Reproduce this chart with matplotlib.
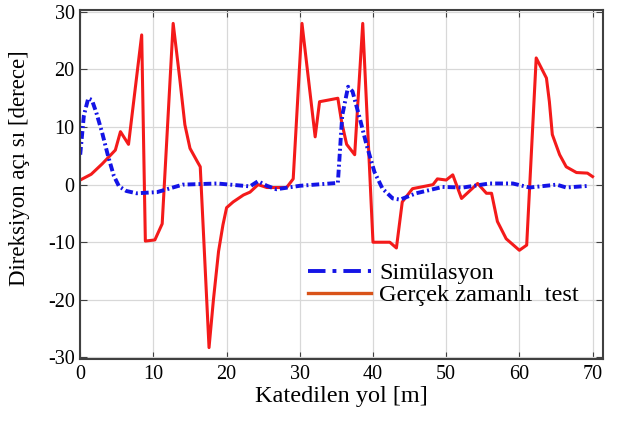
import matplotlib.pyplot as plt
from matplotlib.lines import Line2D

plt.rcParams['font.family'] = ['Liberation Serif', 'DejaVu Serif']
plt.rcParams['axes.unicode_minus'] = False

# simulation (blue dash-dot)
sim_x = [0.0, 0.5, 1.1, 1.6, 2.2, 3.0, 3.8, 4.6, 5.3, 6.3, 7.7, 10.5, 14.0,
         18.7, 23.2, 24.3, 25.5, 26.8, 30.0, 35.2, 35.8, 36.6, 37.2, 38.2,
         39.1, 40.2, 41.3, 42.7, 43.7, 45.9, 49.5, 52.3, 55.9, 59.1, 61.4,
         65.1, 66.4, 69.6]
sim_y = [5.2, 12.0, 15.0, 14.7, 12.5, 9.0, 5.0, 1.5, -0.3, -1.1, -1.5, -1.3, 0.0,
         0.2, -0.3, 0.6, -0.2, -0.8, -0.2, 0.3, 12.0, 17.0, 16.2, 11.5,
         7.0, 2.2, -0.7, -2.4, -2.6, -1.5, -0.4, -0.5, 0.2, 0.2, -0.5,
         0.0, -0.5, -0.2]

# real-time test (red)
test_x = [0.0, 1.5, 3.0, 4.8, 5.5, 6.6, 8.4, 8.9, 10.2, 11.2, 12.7, 13.6, 14.3,
          15.0, 16.0, 16.4, 17.6, 18.2, 18.9, 19.5, 20.0, 20.9, 22.3, 23.2, 24.3,
          25.5, 28.2, 29.1, 30.3, 32.1, 32.7, 35.2, 35.7, 36.4, 37.5, 38.6, 40.0,
          42.3, 43.2, 44.0, 45.4, 48.2, 48.8, 50.0, 50.9, 52.1, 54.3, 55.5, 56.2,
          57.0, 58.2, 60.0, 61.0, 62.3, 63.7, 64.1, 64.5, 65.5, 66.4, 67.8, 69.3,
          70.0]
test_y = [0.8, 1.8, 3.6, 6.0, 9.2, 7.0, 26.0, -9.8, -9.6, -6.8, 28.0, 18.4, 10.4,
          6.3, 4.0, 3.1, -28.3, -20.0, -11.6, -7.0, -4.0, -3.0, -1.8, -1.3, 0.0,
          -0.5, -0.5, 1.0, 28.0, 8.3, 14.4, 15.0, 11.0, 7.0, 5.2, 28.0, -10.0,
          -10.0, -11.0, -3.0, -0.7, 0.0, 1.0, 0.8, 1.7, -2.4, 0.2, -1.5, -1.5,
          -6.4, -9.4, -11.4, -10.5, 22.0, 18.5, 14.4, 8.7, 5.2, 3.1, 2.1, 2.0,
          1.4]

xticks = [0, 10, 20, 30, 40, 50, 60, 70]
yticks = [-30, -20, -10, 0, 10, 20, 30]

fig = plt.figure(figsize=(6.17, 4.23), dpi=100)
ax = fig.add_axes([0.13, 0.151, 0.847, 0.825])

ax.plot(test_x, test_y, color='#f41a1a', linewidth=2.2)
ax.plot(sim_x, sim_y, color='#1414e6', linewidth=2.8,
        linestyle=(0, (2.0, 0.8, 0.5, 0.8)))

ax.set_xlim(0, 71.4)
ax.set_ylim(-30.3, 30.3)
ax.set_xticks(xticks)
ax.set_yticks(yticks)
ax.grid(True, color='#d8d8d8', linewidth=0.9)
ax.tick_params(direction='in', top=True, right=True, length=5, labelsize=14.5,
               color='#404040', pad=4)
for s in ax.spines.values():
    s.set_linewidth(1.5)
    s.set_color('#404040')

ax.set_xlabel('Katedilen yol [m]', fontsize=17.5, labelpad=2)
ax.set_ylabel('Direksiyon açı sı [derece]', fontsize=16.5)
ax.yaxis.set_label_coords(-0.097, 0.547)

handles = [Line2D([], [], color='#1414e6', linewidth=2.8,
                  linestyle=(0, (4.5, 1.8, 1.0, 1.8))),
           Line2D([], [], color='#d95319', linewidth=2.4)]
ax.legend(handles, ['Simülasyon', 'Gerçek zamanlı  test'], loc='center left',
          bbox_to_anchor=(0.436, 0.215), frameon=False, fontsize=17.5,
          handlelength=2.6, handletextpad=0.33, labelspacing=0.0,
          borderpad=0.0, borderaxespad=0.0)

fig.savefig('out.png', dpi=100)
